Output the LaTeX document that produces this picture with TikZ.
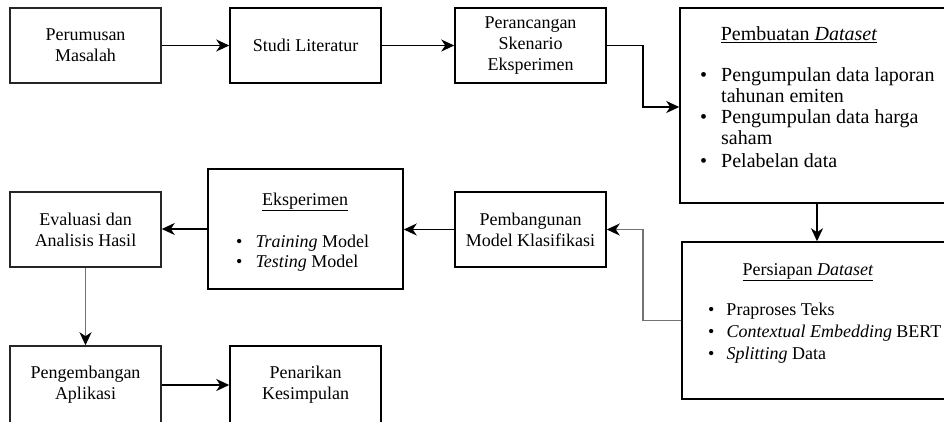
\documentclass[tikz,border=0pt]{standalone}
\usepackage{fontspec}
\setmainfont{Liberation Serif}
\usetikzlibrary{arrows.meta}
\begin{document}
\begin{tikzpicture}[x=1pt,y=-1pt,
  every node/.style={font=\fontsize{18}{20.7}\selectfont},
  box/.style={draw=black, line width=1.5pt, rectangle, inner sep=0pt, align=center},
  sbox/.style={box, minimum width=151pt, minimum height=75pt},
  txt/.style={inner sep=0pt},
  lst/.style={inner sep=0pt, anchor=base west},
  big/.style={font=\fontsize{20}{21}\selectfont},
  conn/.style={line width=1.5pt, -{Stealth[length=13pt,width=12pt,inset=4pt]}},
  gconn/.style={line width=1.8pt, draw=black!55, -{Stealth[length=13pt,width=12pt,inset=4pt,black]}}
]
\useasboundingbox (0,0) rectangle (944,421);
\clip (0,0) rectangle (944,421);
% top row
\node[sbox, draw=black!85] (per) at (85.5,45.5) {Perumusan\\Masalah};
\node[sbox] (stu) at (305.5,45.5) {Studi Literatur};
\node[sbox] (ran) at (530.5,45.5) {Perancangan\\Skenario\\Eksperimen};
\node[box, minimum width=274pt, minimum height=195pt] (pem) at (817,105.5) {};
\node[txt, big] (pemt) at (799,35) {\underline{Pembuatan \textit{Dataset}}};
\node[lst, big] (peml) at (700,81) {\begin{tabular}[t]{@{}l@{\hspace{14pt}}l@{}}
\textbullet & Pengumpulan data laporan\\
 & tahunan emiten\\
\textbullet & Pengumpulan data harga\\
 & saham\\[2pt]
\textbullet & Pelabelan data
\end{tabular}};
% persiapan
\node[box, minimum width=270pt, minimum height=157pt] (pers) at (817,320.5) {};
\node[txt] (perst) at (808,272) {\underline{Persiapan \textit{Dataset}}};
\node[lst] (persl) at (708,315) {\begin{tabular}[t]{@{}l@{\hspace{12pt}}l@{}}
\textbullet & Praproses Teks\\[1.3pt]
\textbullet & \textit{Contextual Embedding} BERT\\[1.3pt]
\textbullet & \textit{Splitting} Data
\end{tabular}};
% middle row
\node[sbox] (bang) at (530.5,229.5) {Pembangunan\\Model Klasifikasi};
\node[box, minimum width=195pt, minimum height=120pt] (eks) at (305.5,229) {};
\node[txt] (ekst) at (305,202) {\underline{Eksperimen}};
\node[lst] (eksl) at (236,247) {\begin{tabular}[t]{@{}l@{\hspace{13pt}}l@{}}
\textbullet & \textit{Training} Model\\
\textbullet & \textit{Testing} Model
\end{tabular}};
\node[sbox, draw=black!85] (eva) at (85.5,229.5) {Evaluasi dan\\Analisis Hasil};
% bottom row
\node[box, draw=black!85, minimum width=151pt, minimum height=78pt] (peng) at (85.5,385) {Pengembangan\\Aplikasi};
\node[box, minimum width=151pt, minimum height=78pt] (tar) at (305.5,385) {Penarikan\\Kesimpulan};
% connectors
\coordinate (c1) at (643,107);
\coordinate (c2) at (643,229.5);
\draw[conn] (per) -- (stu);
\draw[conn] (stu) -- (ran);
\draw[conn] (ran.east) -| (c1) -- (c1 -| pem.west);
\draw[conn] (pem.south) -- (pers.north);
\draw[gconn] (pers.west) -| (c2) -- (bang.east);
\draw[conn] (bang.west) -- (bang.west -| eks.east);
\draw[conn] (eks.west) -- (eks.west -| eva.east);
\draw[gconn] (eva.south) -- (peng.north);
\draw[conn] (peng) -- (tar);
\end{tikzpicture}
\end{document}
